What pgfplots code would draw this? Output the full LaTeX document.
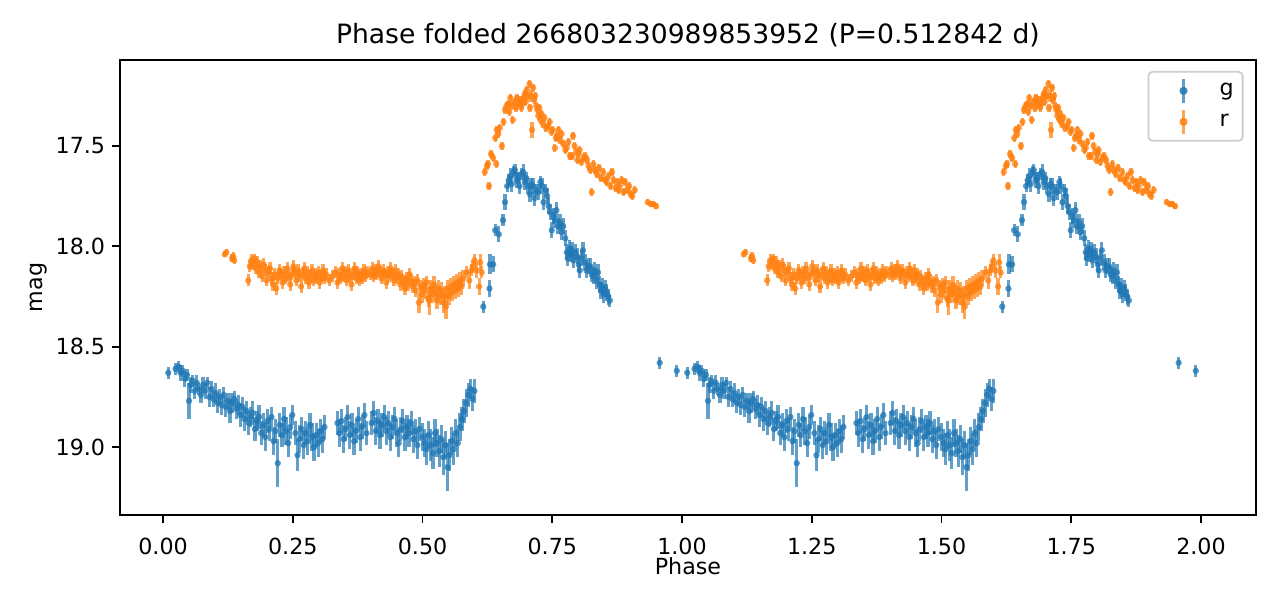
\documentclass[border=0pt]{standalone}
\usepackage{fontspec}
\setmainfont{DejaVu Sans}
\usepackage{pgfplots}
\usepackage{pgfplotstable}
\pgfplotsset{compat=1.18}
\definecolor{tabblue}{HTML}{1F77B4}
\definecolor{taborange}{HTML}{FF7F0E}

% g band: phase, magnitude, 1-sigma error (one cycle)
\pgfplotstableread{
ph m e
0.010 18.63 0.03
0.024 18.61 0.03
0.030 18.60 0.03
0.034 18.63 0.04
0.038 18.62 0.03
0.042 18.66 0.04
0.046 18.64 0.03
0.050 18.77 0.09
0.053 18.69 0.04
0.057 18.67 0.03
0.061 18.72 0.04
0.065 18.68 0.04
0.069 18.71 0.03
0.073 18.74 0.04
0.077 18.69 0.04
0.081 18.72 0.04
0.085 18.68 0.03
0.089 18.75 0.05
0.093 18.71 0.04
0.097 18.76 0.04
0.101 18.73 0.05
0.105 18.78 0.05
0.109 18.75 0.04
0.113 18.79 0.05
0.117 18.74 0.04
0.121 18.80 0.05
0.125 18.77 0.04
0.129 18.82 0.06
0.133 18.78 0.05
0.137 18.76 0.04
0.141 18.81 0.05
0.145 18.79 0.05
0.149 18.84 0.06
0.153 18.80 0.05
0.157 18.86 0.06
0.161 18.82 0.05
0.165 18.88 0.06
0.169 18.85 0.05
0.173 18.83 0.06
0.177 18.91 0.06
0.181 18.87 0.05
0.185 18.85 0.06
0.189 18.93 0.06
0.193 18.89 0.06
0.197 18.95 0.07
0.201 18.87 0.06
0.205 18.91 0.06
0.209 18.85 0.05
0.213 18.97 0.07
0.217 18.92 0.06
0.221 19.08 0.12
0.225 18.89 0.06
0.229 18.94 0.06
0.233 18.86 0.06
0.237 18.92 0.07
0.241 18.98 0.07
0.245 18.90 0.06
0.249 18.84 0.05
0.255 18.93 0.06
0.259 19.04 0.08
0.263 18.96 0.07
0.267 18.91 0.06
0.271 18.99 0.07
0.275 18.93 0.06
0.279 18.97 0.07
0.283 18.89 0.06
0.287 18.95 0.07
0.291 19.00 0.07
0.295 18.94 0.06
0.299 18.98 0.07
0.303 18.92 0.06
0.307 18.96 0.07
0.311 18.90 0.06
0.336 18.88 0.06
0.340 18.93 0.07
0.344 18.87 0.06
0.348 18.96 0.07
0.352 18.91 0.06
0.356 18.85 0.06
0.360 18.94 0.07
0.364 18.89 0.06
0.368 18.97 0.07
0.372 18.92 0.06
0.376 18.86 0.06
0.380 18.95 0.07
0.384 18.90 0.06
0.388 18.84 0.06
0.392 18.93 0.06
0.402 18.88 0.06
0.406 18.83 0.06
0.410 18.92 0.07
0.414 18.87 0.06
0.418 18.94 0.07
0.422 18.89 0.06
0.426 18.85 0.06
0.430 18.92 0.07
0.434 18.88 0.06
0.438 18.95 0.07
0.442 18.90 0.06
0.446 18.86 0.06
0.450 18.93 0.07
0.454 18.98 0.07
0.458 18.91 0.06
0.462 18.87 0.06
0.466 18.95 0.07
0.470 18.90 0.06
0.474 18.93 0.07
0.478 18.88 0.06
0.482 18.96 0.07
0.486 18.92 0.06
0.490 18.99 0.07
0.494 18.91 0.06
0.500 18.95 0.07
0.504 18.98 0.07
0.508 19.01 0.08
0.512 18.94 0.07
0.516 18.99 0.08
0.520 19.03 0.08
0.524 18.93 0.07
0.528 18.98 0.07
0.532 19.02 0.08
0.536 18.96 0.07
0.540 19.05 0.09
0.544 18.99 0.07
0.548 19.10 0.12
0.552 19.04 0.08
0.556 18.97 0.07
0.560 19.01 0.08
0.564 18.93 0.07
0.568 18.98 0.07
0.572 18.90 0.07
0.576 18.86 0.06
0.580 18.82 0.06
0.584 18.78 0.07
0.588 18.74 0.06
0.592 18.71 0.05
0.596 18.76 0.06
0.600 18.72 0.06
0.617 18.30 0.03
0.629 18.21 0.04
0.630 18.09 0.05
0.636 18.09 0.04
0.640 17.92 0.03
0.647 17.94 0.04
0.655 17.87 0.03
0.659 17.78 0.04
0.663 17.70 0.03
0.666 17.67 0.03
0.669 17.65 0.04
0.672 17.69 0.04
0.675 17.63 0.03
0.678 17.62 0.03
0.681 17.67 0.04
0.684 17.66 0.03
0.687 17.70 0.04
0.690 17.64 0.03
0.694 17.63 0.04
0.697 17.68 0.04
0.700 17.66 0.03
0.703 17.70 0.04
0.707 17.74 0.04
0.710 17.69 0.03
0.713 17.70 0.04
0.716 17.76 0.04
0.720 17.72 0.03
0.723 17.73 0.04
0.727 17.68 0.03
0.730 17.70 0.04
0.733 17.78 0.04
0.737 17.72 0.03
0.740 17.75 0.04
0.743 17.80 0.04
0.746 17.83 0.04
0.749 17.92 0.04
0.752 17.85 0.04
0.755 17.87 0.04
0.758 17.82 0.04
0.761 17.90 0.04
0.765 17.88 0.04
0.768 17.93 0.04
0.771 17.90 0.04
0.775 17.96 0.04
0.778 18.03 0.04
0.780 18.06 0.04
0.783 18.01 0.04
0.786 18.04 0.04
0.788 18.02 0.04
0.791 18.07 0.04
0.794 18.03 0.04
0.798 18.05 0.04
0.801 18.09 0.04
0.803 18.12 0.04
0.806 18.06 0.04
0.809 18.02 0.04
0.813 18.08 0.04
0.816 18.12 0.04
0.819 18.10 0.04
0.823 18.10 0.04
0.826 18.14 0.04
0.829 18.15 0.04
0.832 18.12 0.04
0.835 18.17 0.04
0.838 18.13 0.04
0.841 18.19 0.04
0.844 18.22 0.04
0.846 18.20 0.04
0.849 18.24 0.04
0.852 18.21 0.04
0.855 18.23 0.04
0.858 18.25 0.04
0.861 18.27 0.03
0.957 18.58 0.03
0.990 18.62 0.03
}\gband

% r band: phase, magnitude, 1-sigma error (one cycle)
\pgfplotstableread{
ph m e
0.119 18.04 0.015
0.122 18.03 0.015
0.133 18.06 0.02
0.135 18.05 0.02
0.137 18.07 0.02
0.164 18.17 0.03
0.167 18.10 0.03
0.170 18.07 0.03
0.173 18.09 0.03
0.176 18.06 0.02
0.179 18.11 0.03
0.182 18.08 0.03
0.185 18.13 0.03
0.188 18.10 0.03
0.191 18.15 0.03
0.194 18.09 0.03
0.197 18.12 0.03
0.200 18.17 0.03
0.203 18.13 0.03
0.206 18.11 0.03
0.209 18.16 0.03
0.212 18.19 0.03
0.215 18.14 0.03
0.218 18.21 0.03
0.221 18.16 0.03
0.224 18.12 0.03
0.227 18.14 0.03
0.230 18.18 0.03
0.233 18.13 0.03
0.236 18.16 0.03
0.239 18.11 0.03
0.242 18.15 0.03
0.245 18.19 0.03
0.248 18.14 0.03
0.251 18.10 0.03
0.254 18.13 0.03
0.257 18.17 0.03
0.260 18.12 0.03
0.263 18.15 0.03
0.266 18.20 0.03
0.269 18.14 0.03
0.272 18.11 0.03
0.275 18.16 0.03
0.278 18.13 0.03
0.281 18.18 0.03
0.284 18.15 0.03
0.287 18.12 0.03
0.290 18.17 0.03
0.293 18.14 0.03
0.296 18.16 0.03
0.299 18.13 0.03
0.302 18.18 0.03
0.305 18.15 0.03
0.308 18.12 0.03
0.311 18.16 0.03
0.314 18.14 0.03
0.320 18.17 0.03
0.326 18.15 0.03
0.332 18.13 0.03
0.336 18.18 0.03
0.339 18.14 0.03
0.342 18.16 0.03
0.345 18.11 0.03
0.348 18.15 0.03
0.351 18.13 0.03
0.354 18.17 0.03
0.357 18.12 0.03
0.360 18.15 0.03
0.363 18.19 0.03
0.366 18.14 0.03
0.369 18.11 0.03
0.372 18.16 0.03
0.375 18.13 0.03
0.378 18.17 0.03
0.381 18.14 0.03
0.384 18.16 0.03
0.387 18.12 0.03
0.390 18.15 0.03
0.393 18.13 0.03
0.400 18.14 0.03
0.403 18.11 0.03
0.406 18.15 0.03
0.409 18.12 0.03
0.412 18.14 0.03
0.415 18.10 0.03
0.418 18.13 0.03
0.421 18.16 0.03
0.424 18.12 0.03
0.427 18.14 0.03
0.430 18.18 0.03
0.433 18.13 0.03
0.436 18.15 0.03
0.439 18.11 0.03
0.442 18.14 0.03
0.445 18.17 0.03
0.448 18.12 0.03
0.451 18.16 0.03
0.454 18.14 0.03
0.457 18.19 0.03
0.460 18.15 0.03
0.463 18.18 0.03
0.466 18.21 0.03
0.469 18.16 0.03
0.472 18.19 0.03
0.475 18.14 0.03
0.478 18.17 0.03
0.481 18.20 0.03
0.484 18.18 0.03
0.487 18.22 0.03
0.490 18.17 0.03
0.493 18.28 0.05
0.496 18.20 0.03
0.499 18.24 0.04
0.502 18.19 0.03
0.505 18.22 0.04
0.508 18.18 0.03
0.511 18.26 0.04
0.513 18.27 0.07
0.516 18.21 0.04
0.519 18.24 0.04
0.522 18.19 0.04
0.525 18.23 0.04
0.528 18.27 0.04
0.531 18.21 0.04
0.534 18.25 0.04
0.537 18.22 0.04
0.540 18.28 0.05
0.543 18.24 0.04
0.545 18.30 0.06
0.548 18.21 0.04
0.551 18.25 0.04
0.554 18.20 0.04
0.557 18.23 0.04
0.560 18.19 0.04
0.563 18.22 0.04
0.566 18.18 0.04
0.569 18.21 0.04
0.572 18.17 0.04
0.575 18.20 0.04
0.578 18.16 0.04
0.585 18.13 0.03
0.590 18.17 0.04
0.594 18.12 0.03
0.597 18.10 0.03
0.600 18.07 0.03
0.604 18.12 0.04
0.609 18.20 0.04
0.611 18.08 0.04
0.614 18.13 0.03
0.620 17.63 0.02
0.624 17.60 0.02
0.626 17.59 0.02
0.628 17.70 0.02
0.632 17.54 0.02
0.636 17.56 0.02
0.640 17.46 0.02
0.642 17.59 0.02
0.643 17.42 0.02
0.646 17.44 0.02
0.649 17.41 0.02
0.653 17.50 0.02
0.656 17.38 0.02
0.659 17.32 0.02
0.662 17.30 0.02
0.665 17.29 0.02
0.667 17.33 0.02
0.669 17.26 0.02
0.672 17.30 0.02
0.674 17.37 0.02
0.677 17.28 0.02
0.680 17.31 0.02
0.682 17.26 0.02
0.685 17.29 0.02
0.688 17.27 0.02
0.690 17.31 0.02
0.692 17.29 0.02
0.695 17.26 0.02
0.697 17.24 0.02
0.699 17.28 0.02
0.701 17.22 0.02
0.703 17.25 0.02
0.706 17.19 0.02
0.707 17.31 0.02
0.709 17.25 0.03
0.711 17.42 0.04
0.713 17.21 0.02
0.715 17.27 0.02
0.717 17.25 0.02
0.719 17.30 0.02
0.721 17.32 0.02
0.723 17.35 0.02
0.725 17.31 0.02
0.727 17.37 0.02
0.729 17.34 0.02
0.732 17.39 0.02
0.735 17.36 0.02
0.738 17.41 0.02
0.742 17.40 0.02
0.745 17.38 0.02
0.748 17.43 0.02
0.751 17.42 0.02
0.755 17.51 0.02
0.757 17.46 0.02
0.759 17.45 0.02
0.762 17.42 0.02
0.765 17.47 0.02
0.768 17.44 0.02
0.771 17.49 0.02
0.775 17.52 0.02
0.778 17.51 0.02
0.781 17.48 0.02
0.784 17.55 0.02
0.788 17.55 0.02
0.790 17.45 0.02
0.793 17.50 0.02
0.796 17.53 0.02
0.798 17.57 0.02
0.801 17.54 0.02
0.803 17.52 0.02
0.806 17.58 0.02
0.810 17.56 0.02
0.813 17.55 0.02
0.817 17.57 0.02
0.820 17.60 0.02
0.823 17.62 0.02
0.826 17.73 0.02
0.829 17.59 0.02
0.832 17.62 0.02
0.836 17.64 0.02
0.840 17.61 0.02
0.844 17.66 0.02
0.848 17.63 0.02
0.852 17.67 0.02
0.855 17.68 0.02
0.858 17.65 0.02
0.862 17.70 0.02
0.865 17.63 0.02
0.868 17.67 0.02
0.872 17.71 0.02
0.875 17.68 0.02
0.878 17.72 0.02
0.880 17.70 0.02
0.884 17.67 0.02
0.887 17.73 0.02
0.890 17.68 0.02
0.894 17.72 0.02
0.898 17.70 0.02
0.901 17.74 0.02
0.904 17.75 0.02
0.909 17.72 0.02
0.934 17.78 0.015
0.940 17.79 0.015
0.945 17.79 0.015
0.950 17.80 0.015
}\rband

\pgfplotsset{
  band/.style={
    only marks, mark=*, mark size=1.6pt, color=#1,
    mark options={draw opacity=0, fill opacity=0.75},
    error bars/y dir=both,
    error bars/y explicit,
    error bars/error mark=none,
    error bars/error bar style={line width=1.6pt, color=#1, opacity=0.7},
  },
  ebleg/.style={
    legend image code/.code={
      \path[draw=none, fill=none] (0pt,-6pt) rectangle (31pt,6pt);
      \draw[line width=1.6pt, opacity=0.7, rounded corners=0pt] (15.5pt,-6pt) -- (15.5pt,6pt);
      \fill[opacity=0.75] (15.5pt,0pt) circle (1.6pt);
    }
  }
}

\begin{document}
\begin{tikzpicture}
\useasboundingbox (-60pt,-46.5pt) rectangle (580pt,257.5pt);
\begin{axis}[
  at={(0,0)}, anchor=south west,
  scale only axis, width=568pt, height=227.5pt,
  xmin=-0.083, xmax=2.106,
  ymin=17.072, ymax=19.338, y dir=reverse,
  axis line style={line width=0.9pt},
  tick align=outside, major tick length=3.9pt,
  every tick/.style={black, line width=0.9pt},
  xtick={0,0.25,0.5,0.75,1,1.25,1.5,1.75,2},
  ytick={17.5,18,18.5,19},
  xtick pos=bottom, ytick pos=left,
  /pgf/number format/assume math mode=true,
  tick label style={font=\fontsize{11.1}{13}\selectfont},
  xticklabel style={yshift=-4pt, /pgf/number format/.cd, fixed, fixed zerofill, precision=2},
  yticklabel style={/pgf/number format/.cd, fixed, fixed zerofill, precision=1},
  label style={font=\fontsize{11.1}{13}\selectfont},
  xlabel style={yshift=5.5pt},
  ylabel style={yshift=-2.5pt},
  xlabel={Phase}, ylabel={mag},
  title={Phase folded 266803230989853952 (P=0.512842 d)},
  title style={font=\fontsize{13.3}{15}\selectfont, yshift=-3pt},
  legend cell align=left,
  legend style={at={(0.989,0.976)}, anchor=north east,
    draw=black!20, line width=0.9pt, rounded corners=2pt,
    inner xsep=2pt, inner ysep=2pt, row sep=0.5pt,
    font=\fontsize{11.1}{13}\selectfont,
    nodes={text height=7.5pt, text depth=2.5pt, inner sep=2.5pt}},
]
\addplot[band=tabblue, ebleg] table[x=ph, y=m, y error=e] {\gband};
\addlegendentry{g}
\addplot[band=tabblue, forget plot] table[x expr=\thisrow{ph}+1, y=m, y error=e] {\gband};
\addplot[band=taborange, ebleg] table[x=ph, y=m, y error=e] {\rband};
\addlegendentry{r}
\addplot[band=taborange, forget plot] table[x expr=\thisrow{ph}+1, y=m, y error=e] {\rband};
\end{axis}
\end{tikzpicture}
\end{document}
